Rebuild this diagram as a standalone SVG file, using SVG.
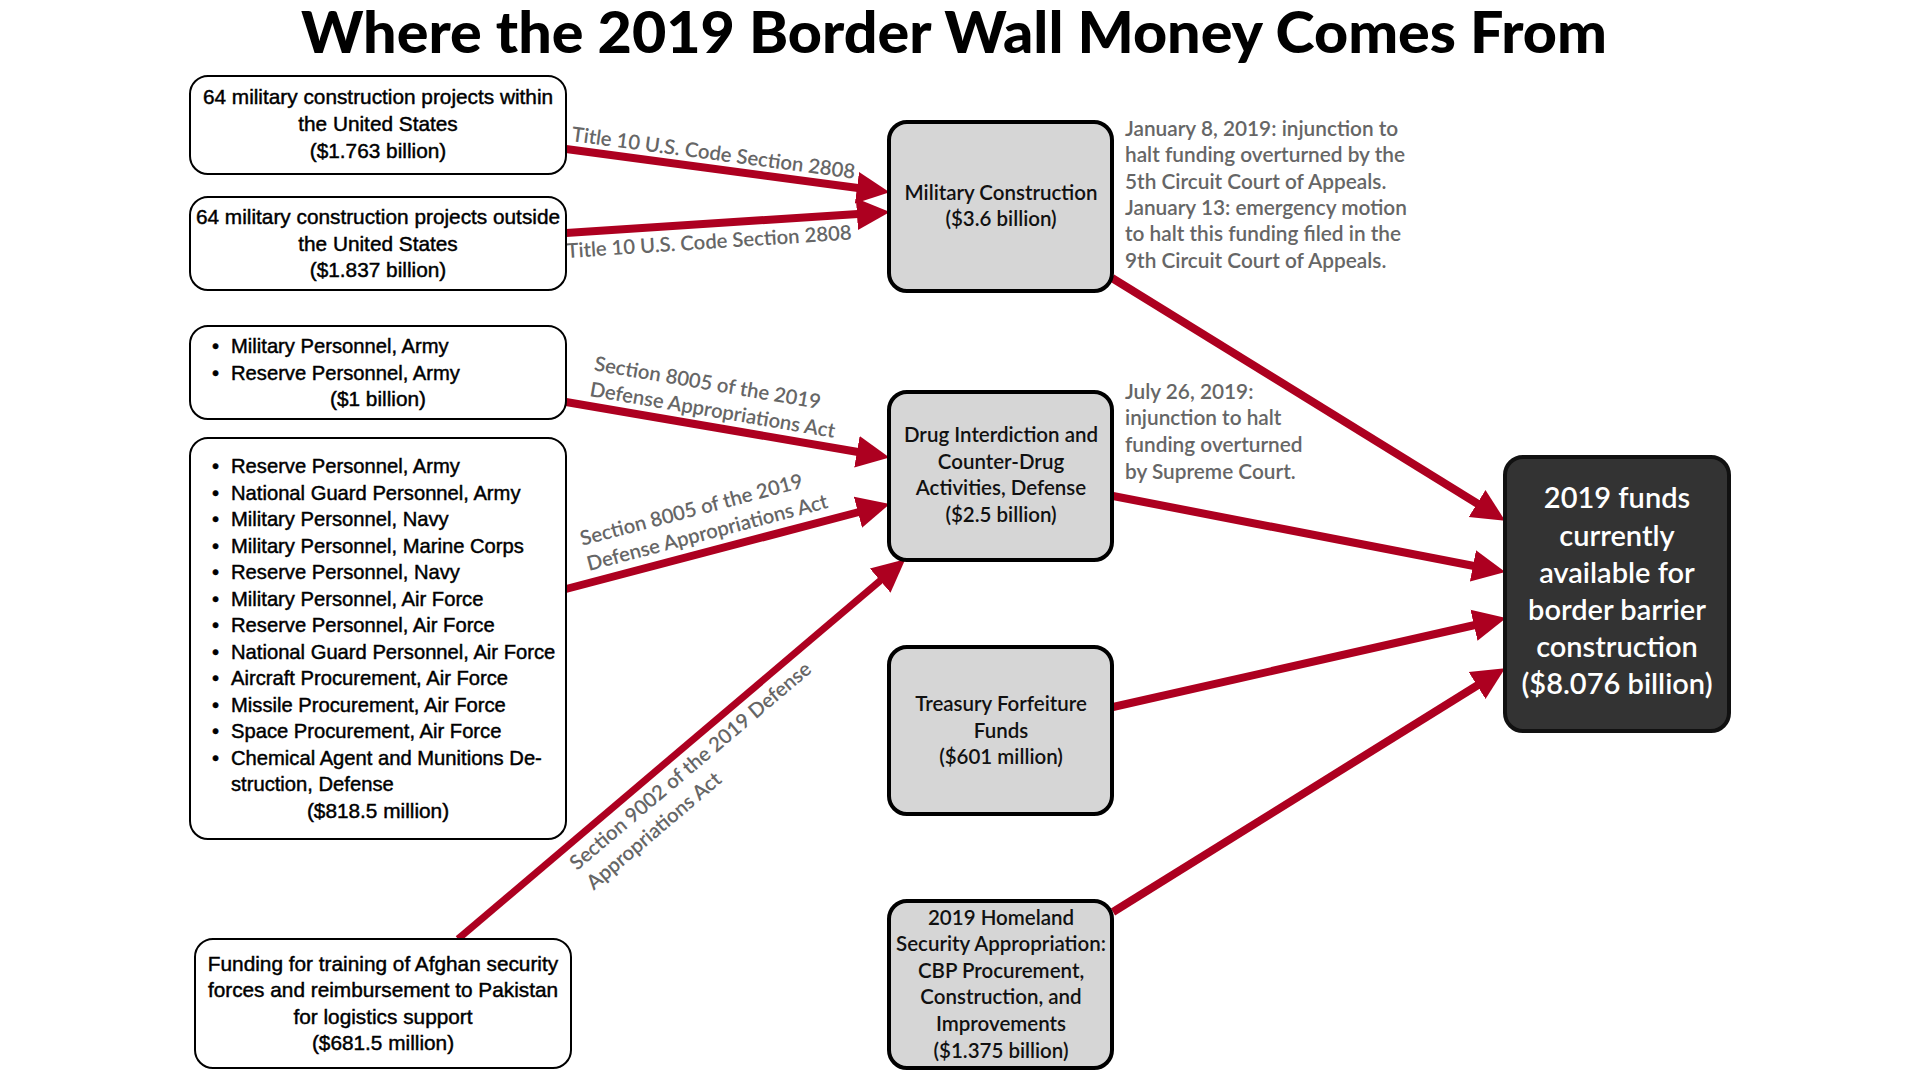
<svg xmlns="http://www.w3.org/2000/svg" width="1920" height="1080" viewBox="0 0 1920 1080">
<style>
.box{fill:#fff;stroke:#000;stroke-width:2}
.mid{fill:#d6d6d6;stroke:#000;stroke-width:4}
.dark{fill:#333;stroke:#111;stroke-width:4}
.lt{font-family:"Liberation Sans Narrow","Liberation Sans",sans-serif;font-size:20.8px;fill:#000;stroke:#000;stroke-width:0.45}
.b{font-size:20.2px}
.c{text-anchor:middle}
.mt{font-family:Lato,"Open Sans",sans-serif;font-size:20.5px;font-weight:600;fill:#111;text-anchor:middle}
.dt{font-family:Lato,"Open Sans",sans-serif;font-size:29px;font-weight:600;fill:#fff;text-anchor:middle}
.note{font-family:Lato,"Open Sans",sans-serif;font-size:20.8px;font-weight:600;fill:#666}
.lbl{font-family:Lato,"Open Sans",sans-serif;font-size:20.3px;font-weight:600;fill:#666}
.arr{stroke:#ad0020;stroke-width:8;fill:none;marker-end:url(#ah)}
.title{font-family:Lato,"Liberation Sans",sans-serif;font-size:57px;font-weight:900;fill:#000;text-anchor:middle}
</style>
<defs>
<marker id="ah" markerUnits="userSpaceOnUse" markerWidth="34" markerHeight="34" viewBox="0 -16 32 32" refX="1" refY="0" orient="auto">
<path d="M0,-15 L31,0 L0,15 z" fill="#ad0020"/>
</marker>
</defs>
<rect width="1920" height="1080" fill="#fff"/>
<text class="title" x="954" y="53" textLength="1306" lengthAdjust="spacingAndGlyphs">Where the 2019 Border Wall Money Comes From</text>

<g id="connectors">
<line class="arr" x1="566" y1="149" x2="858" y2="188"/>
<line class="arr" x1="566" y1="233" x2="858" y2="214"/>
<line class="arr" x1="566" y1="402" x2="858" y2="452"/>
<line class="arr" x1="566" y1="589" x2="859" y2="512"/>
<line class="arr" x1="458" y1="939" x2="881" y2="580" style="stroke-width:7"/>
<line class="arr" x1="1112" y1="278" x2="1478" y2="504"/>
<line class="arr" x1="1113" y1="496" x2="1474" y2="566"/>
<line class="arr" x1="1113" y1="707" x2="1475" y2="625"/>
<line class="arr" x1="1113" y1="912" x2="1478" y2="685"/>
<text class="lbl" transform="translate(571,141) rotate(7.6)">Title 10 U.S. Code Section 2808</text>
<text class="lbl" transform="translate(567,258) rotate(-3.7)">Title 10 U.S. Code Section 2808</text>
<g transform="translate(589,396) rotate(9.7)">
<text class="lbl" x="0" y="-26">Section 8005 of the 2019</text>
<text class="lbl" x="0" y="0">Defense Appropriations Act</text>
</g>
<g transform="translate(589,571) rotate(-14.8)">
<text class="lbl" x="0" y="-26">Section 8005 of the 2019</text>
<text class="lbl" x="0" y="0">Defense Appropriations Act</text>
</g>
<g transform="translate(577,871) rotate(-40.3)">
<text class="lbl" x="0" y="0">Section 9002 of the 2019 Defense</text>
<text class="lbl" x="0" y="26">Appropriations Act</text>
</g>
</g>

<g id="src-within">
<rect class="box" x="190" y="76" width="376" height="98" rx="18"/>
<text class="lt c" x="378" y="104">64 military construction projects within</text>
<text class="lt c" x="378" y="131">the United States</text>
<text class="lt c" x="378" y="158">($1.763 billion)</text>
</g>
<g id="src-outside">
<rect class="box" x="190" y="197" width="376" height="93" rx="18"/>
<text class="lt c" x="378" y="224">64 military construction projects outside</text>
<text class="lt c" x="378" y="251">the United States</text>
<text class="lt c" x="378" y="277">($1.837 billion)</text>
</g>
<g id="src-army">
<rect class="box" x="190" y="326" width="376" height="93" rx="18"/>
<text class="lt b" y="353"><tspan x="212">•</tspan><tspan x="231">Military Personnel, Army</tspan></text>
<text class="lt b" y="380"><tspan x="212">•</tspan><tspan x="231">Reserve Personnel, Army</tspan></text>
<text class="lt c" x="378" y="406">($1 billion)</text>
</g>
<g id="src-multi">
<rect class="box" x="190" y="438" width="376" height="401" rx="18"/>
<text class="lt b" y="473"><tspan x="212">•</tspan><tspan x="231">Reserve Personnel, Army</tspan></text>
<text class="lt b" y="499.5"><tspan x="212">•</tspan><tspan x="231">National Guard Personnel, Army</tspan></text>
<text class="lt b" y="526"><tspan x="212">•</tspan><tspan x="231">Military Personnel, Navy</tspan></text>
<text class="lt b" y="552.5"><tspan x="212">•</tspan><tspan x="231">Military Personnel, Marine Corps</tspan></text>
<text class="lt b" y="579"><tspan x="212">•</tspan><tspan x="231">Reserve Personnel, Navy</tspan></text>
<text class="lt b" y="605.5"><tspan x="212">•</tspan><tspan x="231">Military Personnel, Air Force</tspan></text>
<text class="lt b" y="632"><tspan x="212">•</tspan><tspan x="231">Reserve Personnel, Air Force</tspan></text>
<text class="lt b" y="658.5"><tspan x="212">•</tspan><tspan x="231">National Guard Personnel, Air Force</tspan></text>
<text class="lt b" y="685"><tspan x="212">•</tspan><tspan x="231">Aircraft Procurement, Air Force</tspan></text>
<text class="lt b" y="711.5"><tspan x="212">•</tspan><tspan x="231">Missile Procurement, Air Force</tspan></text>
<text class="lt b" y="738"><tspan x="212">•</tspan><tspan x="231">Space Procurement, Air Force</tspan></text>
<text class="lt b" y="764.5"><tspan x="212">•</tspan><tspan x="231">Chemical Agent and Munitions De-</tspan></text>
<text class="lt b" x="231" y="791">struction, Defense</text>
<text class="lt c" x="378" y="817.5">($818.5 million)</text>
</g>
<g id="src-afghan">
<rect class="box" x="195" y="939" width="376" height="129" rx="18"/>
<text class="lt c" x="383" y="971">Funding for training of Afghan security</text>
<text class="lt c" x="383" y="997">forces and reimbursement to Pakistan</text>
<text class="lt c" x="383" y="1024">for logistics support</text>
<text class="lt c" x="383" y="1050">($681.5 million)</text>
</g>

<g id="mil-construction">
<rect class="mid" x="889" y="122" width="223" height="169" rx="18"/>
<text class="mt" x="1001" y="200">Military Construction</text>
<text class="mt" x="1001" y="226">($3.6 billion)</text>
</g>
<g id="drug">
<rect class="mid" x="889" y="392" width="223" height="168" rx="18"/>
<text class="mt" x="1001" y="442">Drug Interdiction and</text>
<text class="mt" x="1001" y="469">Counter-Drug</text>
<text class="mt" x="1001" y="495">Activities, Defense</text>
<text class="mt" x="1001" y="522">($2.5 billion)</text>
</g>
<g id="treasury">
<rect class="mid" x="889" y="647" width="223" height="167" rx="18"/>
<text class="mt" x="1001" y="711">Treasury Forfeiture</text>
<text class="mt" x="1001" y="738">Funds</text>
<text class="mt" x="1001" y="764">($601 million)</text>
</g>
<g id="homeland">
<rect class="mid" x="889" y="901" width="223" height="167" rx="18"/>
<text class="mt" x="1001" y="924.5">2019 Homeland</text>
<text class="mt" x="1001" y="951">Security Appropriation:</text>
<text class="mt" x="1001" y="978">CBP Procurement,</text>
<text class="mt" x="1001" y="1004">Construction, and</text>
<text class="mt" x="1001" y="1031">Improvements</text>
<text class="mt" x="1001" y="1058">($1.375 billion)</text>
</g>
<g id="total">
<rect class="dark" x="1505" y="457" width="224" height="274" rx="18"/>
<text class="dt" x="1617" y="508">2019 funds</text>
<text class="dt" x="1617" y="546">currently</text>
<text class="dt" x="1617" y="583">available for</text>
<text class="dt" x="1617" y="620">border barrier</text>
<text class="dt" x="1617" y="657">construction</text>
<text class="dt" x="1617" y="694">($8.076 billion)</text>
</g>

<g id="note-mc">
<text class="note" x="1125" y="136">January 8, 2019: injunction to</text>
<text class="note" x="1125" y="162">halt funding overturned by the</text>
<text class="note" x="1125" y="189">5th Circuit Court of Appeals.</text>
<text class="note" x="1125" y="215">January 13: emergency motion</text>
<text class="note" x="1125" y="241">to halt this funding filed in the</text>
<text class="note" x="1125" y="268">9th Circuit Court of Appeals.</text>
</g>
<g id="note-drug">
<text class="note" x="1125" y="399">July 26, 2019:</text>
<text class="note" x="1125" y="425">injunction to halt</text>
<text class="note" x="1125" y="452">funding overturned</text>
<text class="note" x="1125" y="479">by Supreme Court.</text>
</g>
</svg>
